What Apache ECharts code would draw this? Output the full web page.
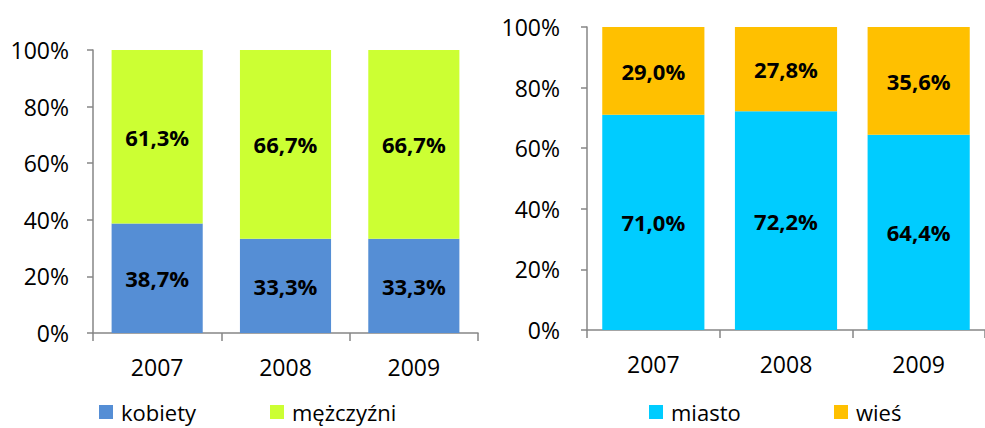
<!DOCTYPE html>
<html>
<head>
<meta charset="utf-8">
<script src="https://cdn.jsdelivr.net/npm/echarts@6/dist/echarts.min.js"></script>
<style>
  html, body { margin: 0; padding: 0; background: #fff; }
  #chart { width: 985px; height: 428px; }
</style>
</head>
<body>
<div id="chart"></div>
<script>
var years = ['2007', '2008', '2009'];
var kobiety = [38.7, 33.3, 33.3];
var mezczyzni = [61.3, 66.7, 66.7];
var miasto = [71.0, 72.2, 64.4];
var wies = [29.0, 27.8, 35.6];
var yTicks = [0, 20, 40, 60, 80, 100];

(function() {
  var font = '"Open Sans", "Noto Sans", sans-serif';
  var axisGray = '#868686';
  var chart = echarts.init(document.getElementById('chart'), null, { renderer: 'svg' });

  function pct(v) { return v.toFixed(1).replace('.', ',') + '%'; }

  function xAxis(idx) {
    return {
      type: 'category', gridIndex: idx, data: years,
      axisLine: { lineStyle: { color: axisGray, width: 1.5 } },
      axisTick: { show: true, length: 8, lineStyle: { color: axisGray, width: 1.5 } },
      axisLabel: { color: '#000', fontSize: 23, fontFamily: font, margin: 22 }
    };
  }
  function yAxis(idx, margin) {
    return {
      type: 'value', gridIndex: idx, min: 0, max: 100, interval: 20,
      axisLine: { show: true, lineStyle: { color: axisGray, width: 1.5 } },
      axisTick: { show: true, length: 6, lineStyle: { color: axisGray, width: 1.5 } },
      splitLine: { show: false },
      axisLabel: {
        color: '#000', fontSize: 23, fontFamily: font, margin: margin,
        formatter: function(v) { return yTicks.indexOf(v) >= 0 ? v + '%' : ''; }
      }
    };
  }
  function bar(name, data, color, idx, gap) {
    return {
      name: name, type: 'bar', stack: 's' + idx, data: data,
      xAxisIndex: idx, yAxisIndex: idx,
      barCategoryGap: gap,
      itemStyle: { color: color },
      label: {
        show: true, position: 'inside', color: '#000',
        fontSize: 22, fontWeight: 'bold', fontFamily: font,
        formatter: function(p) { return pct(p.value); }
      }
    };
  }
  function legend(name, left) {
    return {
      data: [name], left: left, top: 401,
      padding: 0,
      itemWidth: 14, itemHeight: 14, itemGap: 0,
      icon: 'rect',
      textStyle: { color: '#000', fontSize: 22, lineHeight: 22, fontFamily: font, padding: [0, 0, 0, 3] }
    };
  }

  chart.setOption({
    animation: false,
    grid: [
      { left: 93, top: 50, width: 385, height: 283 },
      { left: 587, top: 27, width: 411, height: 303 }
    ],
    xAxis: [xAxis(0), xAxis(1)],
    yAxis: [yAxis(0, 24), yAxis(1, 27)],
    legend: [
      legend('kobiety', 99),
      legend('mężczyźni', 270),
      legend('miasto', 649),
      legend('wieś', 834)
    ],
    series: [
      bar('kobiety', kobiety, '#558ED5', 0, '29%'),
      bar('mężczyźni', mezczyzni, '#CCFF33', 0, '29%'),
      bar('miasto', miasto, '#00CCFF', 1, '23%'),
      bar('wieś', wies, '#FFC000', 1, '23%')
    ]
  });
})();
</script>
</body>
</html>
